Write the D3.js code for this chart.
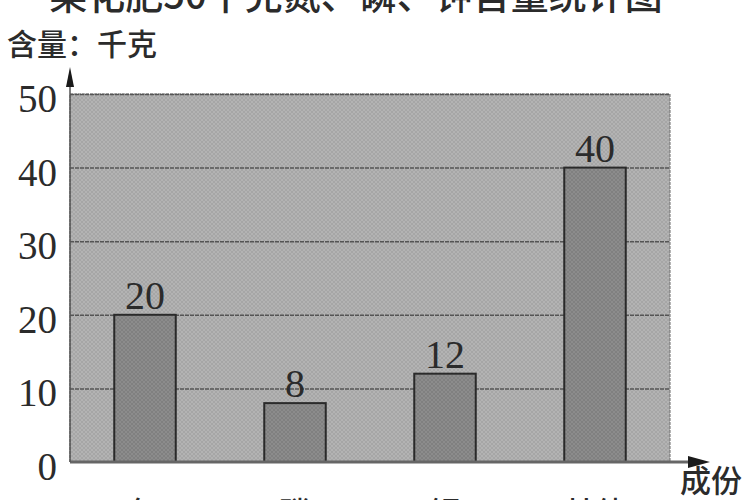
<!DOCTYPE html>
<html>
<head>
    <meta charset="utf-8">
    <style>
        body {
            margin: 0;
            background: white;
        }

        svg {
            overflow: hidden;
        }

        .cjk {
            font-family: "Noto Sans CJK SC", "Noto Sans", sans-serif;
            font-weight: 500;
            fill: #2b2b2b;
        }

        .num {
            font-family: "Liberation Serif", "DejaVu Serif", serif;
            fill: #2b2b2b;
        }
    </style>
</head>

<body>
    <svg width="750" height="500"></svg>

    <script src="https://d3js.org/d3.v7.min.js"></script>
    <script>
        // values
        const categories = ["氮", "磷", "钾", "其他"];
        const values = [20, 8, 12, 40];
        const yTicks = [0, 10, 20, 30, 40, 50];
        const titleText = "某化肥50千克氮、磷、钾含量统计图";
        const yLabel = "含量：千克";
        const xLabel = "成份";

        let plotLeft = 70, plotRight = 670, plotTop = 94, plotBottom = 462;

        let svg = d3.select("svg");

        let x = d3.scaleBand()
            .domain(categories)
            .range([plotLeft, plotRight])
            .paddingInner(0.59)
            .paddingOuter(0.295);

        let y = d3.scaleLinear()
            .domain([0, 50])
            .range([plotBottom, plotTop]);

        // hatched texture like the printed scan
        let defs = svg.append("defs");
        let hatch = defs.append("pattern")
            .attr("id", "hatch")
            .attr("patternUnits", "userSpaceOnUse")
            .attr("width", 4)
            .attr("height", 4);
        hatch.append("rect").attr("width", 4).attr("height", 4).attr("fill", "#b3b3b3");
        hatch.append("path")
            .attr("d", "M0,4 L4,0 M0,0 L4,4")
            .attr("stroke", "#a2a2a2")
            .attr("stroke-width", 0.8);

        let hatchDark = defs.append("pattern")
            .attr("id", "hatchDark")
            .attr("patternUnits", "userSpaceOnUse")
            .attr("width", 4)
            .attr("height", 4);
        hatchDark.append("rect").attr("width", 4).attr("height", 4).attr("fill", "#8c8c8c");
        hatchDark.append("path")
            .attr("d", "M0,4 L4,0 M0,0 L4,4")
            .attr("stroke", "#7c7c7c")
            .attr("stroke-width", 0.8);

        // plot background
        svg.append("rect")
            .attr("x", plotLeft)
            .attr("y", y(50))
            .attr("width", plotRight - plotLeft)
            .attr("height", y(0) - y(50))
            .attr("fill", "url(#hatch)")
            .attr("stroke", "#6a6a6a")
            .attr("stroke-width", 1)
            .attr("stroke-dasharray", "3,1");

        // gridlines
        svg.append("g")
            .attr("transform", "translate(" + plotLeft + ",0)")
            .call(d3.axisLeft(y).tickValues(yTicks.slice(1)).tickSize(-(plotRight - plotLeft)).tickFormat(""))
            .call(g => g.select(".domain").remove())
            .call(g => g.selectAll("line")
                .attr("stroke", "#555")
                .attr("stroke-width", 1.5)
                .attr("stroke-dasharray", "4,1"));

        // y tick labels
        svg.append("g")
            .attr("transform", "translate(" + plotLeft + ",0)")
            .call(d3.axisLeft(y).tickValues(yTicks).tickSize(0).tickPadding(13))
            .call(g => g.select(".domain").remove())
            .call(g => g.selectAll("text")
                .attr("class", "num")
                .attr("dy", "0.45em")
                .style("font-size", "39px"));

        // bars
        svg.selectAll(".bar")
            .data(values)
            .join("rect")
            .attr("class", "bar")
            .attr("x", (d, i) => x(categories[i]))
            .attr("y", d => y(d))
            .attr("width", x.bandwidth())
            .attr("height", d => y(0) - y(d))
            .attr("fill", "url(#hatchDark)")
            .attr("stroke", "#2a2a2a")
            .attr("stroke-width", 2);

        // value labels
        svg.selectAll(".val")
            .data(values)
            .join("text")
            .attr("class", "num")
            .attr("x", (d, i) => x(categories[i]) + x.bandwidth() / 2)
            .attr("y", d => y(d) - 6)
            .attr("text-anchor", "middle")
            .style("font-size", "40px")
            .text(d => d);

        // axes with arrows
        svg.append("line")
            .attr("x1", plotLeft).attr("x2", 692)
            .attr("y1", plotBottom).attr("y2", plotBottom)
            .attr("stroke", "#666")
            .attr("stroke-width", 3);
        svg.append("path")
            .attr("d", "M710," + plotBottom + " L688," + (plotBottom - 6) + " L688," + (plotBottom + 6) + " Z")
            .attr("fill", "#1a1a1a");

        svg.append("line")
            .attr("x1", plotLeft).attr("x2", plotLeft)
            .attr("y1", plotBottom).attr("y2", 84)
            .attr("stroke", "#555")
            .attr("stroke-width", 1.5);
        svg.append("path")
            .attr("d", "M" + plotLeft + ",67 L" + (plotLeft - 4) + ",87 L" + (plotLeft + 4) + ",87 Z")
            .attr("fill", "#1a1a1a");

        // texts
        svg.append("text")
            .attr("class", "cjk")
            .attr("x", 356)
            .attr("y", 9)
            .attr("text-anchor", "middle")
            .style("font-size", "38px")
            .text(titleText);

        svg.append("text")
            .attr("class", "cjk")
            .attr("x", 7)
            .attr("y", 55)
            .style("font-size", "30px")
            .text(yLabel);

        svg.append("text")
            .attr("class", "cjk")
            .attr("x", 680)
            .attr("y", 492)
            .style("font-size", "31px")
            .text(xLabel);

        svg.selectAll(".cat")
            .data(categories)
            .join("text")
            .attr("class", "cjk")
            .attr("x", d => x(d) + x.bandwidth() / 2)
            .attr("y", 524)
            .attr("text-anchor", "middle")
            .style("font-size", "31px")
            .text(d => d);
    </script>
</body>
</html>
